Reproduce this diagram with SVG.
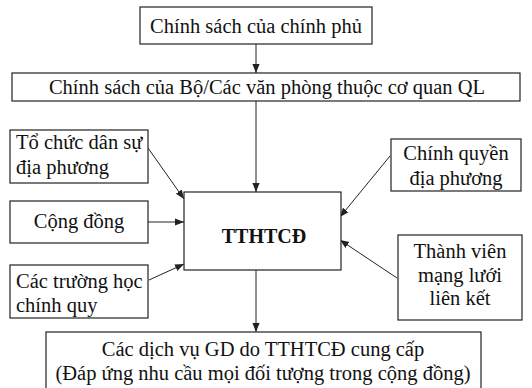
<svg xmlns="http://www.w3.org/2000/svg" width="532" height="388" viewBox="0 0 532 388">
<style>
.box{fill:#fff;stroke:#222;stroke-width:1.2}
text{font-family:"Liberation Serif","Times New Roman","DejaVu Serif",serif;font-size:20.5px;fill:#111}
.c{text-anchor:middle}
.b{font-weight:bold;font-size:20px}
.ln{stroke:#222;stroke-width:1;fill:none;marker-end:url(#ah)}
</style>
<defs>
<marker id="ah" viewBox="0 0 10 10" refX="10" refY="5" markerWidth="9" markerHeight="9" markerUnits="userSpaceOnUse" orient="auto">
<path d="M0,1 L10,5 L0,9 Z" fill="#222"/>
</marker>
</defs>
<rect width="532" height="388" fill="#fff"/>
<g id="connectors">
<line class="ln" x1="256" y1="44" x2="256" y2="73"/>
<line class="ln" x1="256" y1="101" x2="256" y2="192"/>
<line class="ln" x1="148" y1="148" x2="184" y2="199"/>
<line class="ln" x1="390" y1="156" x2="340" y2="217"/>
<line class="ln" x1="148" y1="222" x2="184" y2="222"/>
<line class="ln" x1="149" y1="280" x2="184" y2="264"/>
<line class="ln" x1="397" y1="278" x2="340" y2="240"/>
<line class="ln" x1="256" y1="270" x2="256" y2="332"/>
</g>
<g id="n_chinhphu">
<rect class="box" x="140" y="7" width="232" height="37"/>
<text class="c" x="256" y="33">Chính sách của chính phủ</text>
</g>
<g id="n_bo">
<rect class="box" x="12" y="73" width="508" height="28"/>
<text class="c" x="267" y="94">Chính sách của Bộ/Các văn phòng thuộc cơ quan QL</text>
</g>
<g id="n_tochuc">
<rect class="box" x="10" y="130" width="138" height="53"/>
<text x="16" y="149">Tổ chức dân sự</text>
<text x="16" y="174">địa phương</text>
</g>
<g id="n_chinhquyen">
<rect class="box" x="391" y="139" width="130" height="52"/>
<text class="c" x="456" y="160">Chính quyền</text>
<text class="c" x="456" y="185">địa phương</text>
</g>
<g id="n_congdong">
<rect class="box" x="10" y="201" width="138" height="42"/>
<text class="c" x="79" y="228">Cộng đồng</text>
</g>
<g id="n_tthtcd">
<rect class="box" x="184" y="192" width="157" height="78"/>
<text class="c b" x="264" y="243">TTHTCĐ</text>
</g>
<g id="n_truonghoc">
<rect class="box" x="10" y="265" width="138" height="53"/>
<text x="16" y="288">Các trường học</text>
<text x="16" y="312">chính quy</text>
</g>
<g id="n_thanhvien">
<rect class="box" x="398" y="235" width="124" height="85"/>
<text class="c" x="460" y="258">Thành viên</text>
<text class="c" x="460" y="282">mạng lưới</text>
<text class="c" x="460" y="305">liên kết</text>
</g>
<g id="n_dichvu">
<rect class="box" x="46" y="332" width="435" height="70"/>
<text class="c" x="263" y="356">Các dịch vụ GD do TTHTCĐ cung cấp</text>
<text class="c" x="263" y="380">(Đáp ứng nhu cầu mọi đối tượng trong cộng đồng)</text>
</g>
</svg>
